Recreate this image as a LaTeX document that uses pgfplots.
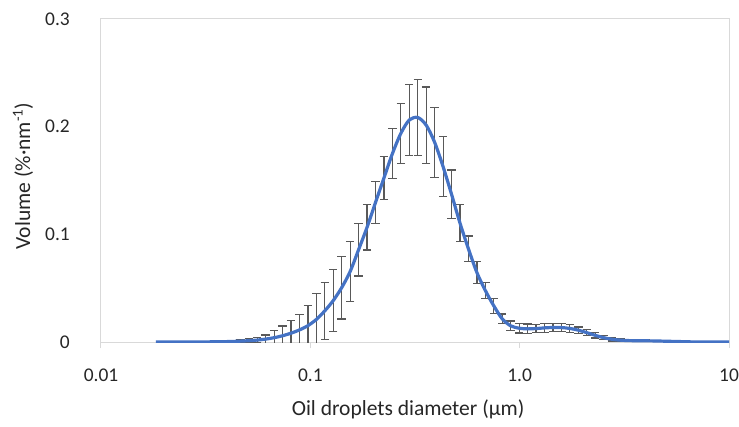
\documentclass[border=0pt]{standalone}
\usepackage{pgfplots}
\pgfplotsset{compat=1.18}
\usepackage{pgfplotstable}
\usepackage{fontspec}
\setmainfont{Carlito}
\definecolor{lineblue}{HTML}{4472C4}
\definecolor{errgray}{HTML}{595959}
\definecolor{axgray}{HTML}{D9D9D9}
\definecolor{txt}{HTML}{262626}
\pgfplotstableread{
x y e
0.0183 0 0
0.0201 0 0
0.0220 0 0
0.0242 0 0
0.0265 0 0
0.0291 0 0
0.0319 0.0001 0.0001
0.0351 0.0002 0.0003
0.0385 0.0003 0.0005
0.0422 0.0005 0.0008
0.0463 0.0008 0.0012
0.0508 0.0012 0.0018
0.0558 0.0018 0.0026
0.0612 0.0027 0.0038
0.0672 0.0040 0.0065
0.0737 0.0058 0.0091
0.0809 0.0082 0.0116
0.0887 0.0112 0.0145
0.0974 0.0152 0.0189
0.1069 0.0210 0.0240
0.1173 0.0290 0.0265
0.1287 0.0385 0.0286
0.1412 0.0505 0.0291
0.1550 0.0655 0.0276
0.1701 0.0858 0.0245
0.1866 0.1065 0.0210
0.2048 0.1296 0.0193
0.2247 0.1523 0.0198
0.2466 0.1749 0.0234
0.2707 0.1938 0.0279
0.2970 0.2062 0.0331
0.3260 0.2085 0.0355
0.3577 0.2014 0.0355
0.3925 0.1855 0.0325
0.4308 0.1628 0.0279
0.4727 0.1372 0.0226
0.5188 0.1104 0.0172
0.5693 0.0865 0.0119
0.6248 0.0645 0.0100
0.6856 0.0478 0.0072
0.7524 0.0336 0.0070
0.8257 0.0215 0.0045
0.9061 0.0150 0.0045
0.9944 0.0128 0.0045
1.0912 0.0122 0.0045
1.1975 0.0125 0.0040
1.3142 0.0131 0.0040
1.4422 0.0135 0.0040
1.5827 0.0134 0.0040
1.7369 0.0126 0.0035
1.9061 0.0110 0.0030
2.0918 0.0087 0.0030
2.2956 0.0062 0.0025
2.5192 0.0040 0.0020
2.7646 0.0025 0.0015
3.0339 0.0017 0.0010
3.3295 0.0013 0.0008
3.6538 0.0012 0.0007
4.0097 0.0011 0.0007
4.4003 0.0010 0.0006
4.8290 0.0008 0.0005
5.2994 0.0006 0.0004
5.8156 0.0004 0.0003
6.3821 0.0002 0.0002
7.0038 0 0
7.6861 0 0
8.4348 0 0
9.2565 0 0
10 0 0
}\psd
\begin{document}
\fontsize{19.5}{23}\selectfont
\begin{tikzpicture}
\path[use as bounding box] (-101bp,-85bp) rectangle (638bp,342bp);
\begin{axis}[
  at={(0,0)}, anchor=south west,
  scale only axis,
  width=628bp, height=323bp,
  xmode=log,
  xmin=0.01, xmax=10,
  ymin=0, ymax=0.3,
  xtick={0.01,0.1,1,10},
  xticklabels={0.01,0.1,1.0,10},
  minor xtick={},
  minor tick length=0pt,
  xtick pos=bottom,
  ytick pos=left,
  ytick={0,0.1,0.2,0.3},
  yticklabels={0,0.1,0.2,0.3},
  axis line style={draw=axgray, line width=1bp},
  x tick style={draw=axgray, line width=1bp},
  y tick style={draw=none},
  tick align=outside,
  major tick length=6bp,
  xticklabel style={anchor=center, inner sep=0pt, yshift=-27bp, text=txt},
  yticklabel style={anchor=east, inner sep=0pt, xshift=-25bp, text=txt},
  xlabel={Oil droplets diameter (µm)},
  ylabel={Volume (\%·nm\textsuperscript{-1})},
  xlabel style={at={(axis description cs:0.489,-0.207)}, anchor=center, text=txt},
  ylabel style={at={(axis description cs:-0.124,0.514)}, anchor=center, rotate=0, text=txt},
  every axis label/.append style={font=\fontsize{21.6}{25}\selectfont},
  tick label style={font=\fontsize{19.5}{23}\selectfont},
]
\addplot[draw=none, mark=none, forget plot,
  skip coords between index={0}{6},
  skip coords between index={64}{69},
  error bars/.cd, y dir=both, y explicit,
  error mark=|,
  error bar style={draw=errgray, line width=1.2bp, solid},
  error mark options={draw=errgray, mark size=4.2bp, line width=1.2bp, solid}]
  table[x=x, y=y, y error=e] {\psd};
\addplot[lineblue, line width=3.2bp, smooth, mark=none] table[x=x, y=y] {\psd};
\end{axis}
\end{tikzpicture}
\end{document}
